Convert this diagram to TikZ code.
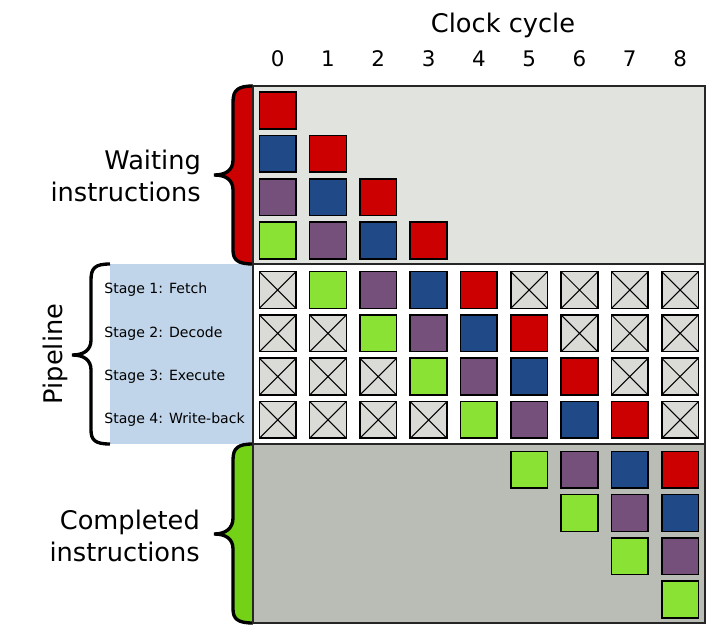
\documentclass[tikz,border=0pt]{standalone}
\usepackage{fontspec}
\setmainfont{DejaVu Sans}
\usetikzlibrary{positioning}

\definecolor{ired}{HTML}{CC0000}
\definecolor{iblue}{HTML}{204A87}
\definecolor{ipurple}{HTML}{75507B}
\definecolor{igreen}{HTML}{8AE234}
\definecolor{bracegreen}{HTML}{73D216}
\definecolor{waitbg}{HTML}{E1E3DE}
\definecolor{donebg}{HTML}{BABDB6}
\definecolor{stagebg}{HTML}{C1D5EA}
\definecolor{idlegray}{HTML}{DADBD7}

\begin{document}
\begin{tikzpicture}[
    x=0.02cm, y=-0.02cm,
    cell/.style={rectangle, draw=black, line width=0.9pt, minimum size=0.734cm, inner sep=0pt},
    instr/.style={cell, fill=#1},
    idle/.style={cell, fill=idlegray, path picture={
        \draw[line width=0.6pt] (path picture bounding box.north west) -- (path picture bounding box.south east)
          (path picture bounding box.north east) -- (path picture bounding box.south west);}},
    panel/.style={draw=black!85, line width=0.9pt},
    brace/.style={draw=black, line width=1.9pt},
    biglabel/.style={font=\fontsize{14.6}{18}\selectfont, align=right},
    digit/.style={font=\fontsize{12.2}{14}\selectfont},
    stage/.style={font=\fontsize{8}{9}\selectfont, anchor=west, inner sep=0pt}
  ]
  \useasboundingbox (0,0) rectangle (728,633);

  % background panels
  \fill[stagebg] (110,264) rectangle (253,444);
  \fill[waitbg] (253,86) rectangle (705,264);
  \fill[white] (253,264) rectangle (705,444);
  \fill[donebg] (253,444) rectangle (705,623);

  % braces
  \filldraw[brace, fill=ired] (253,86) .. controls (238,86) and (233,90) .. (233,102) -- (233,160)
    .. controls (233,170) and (226,175) .. (214,175) .. controls (226,175) and (233,180) .. (233,190)
    -- (233,250) .. controls (233,260) and (238,264) .. (253,264);
  \draw[brace] (110,264) .. controls (95,264) and (91,268) .. (91,280) -- (91,340)
    .. controls (91,350) and (84,355) .. (72,355) .. controls (84,355) and (91,360) .. (91,370)
    -- (91,430) .. controls (91,440) and (95,444) .. (110,444);
  \filldraw[brace, fill=bracegreen] (253,444) .. controls (238,444) and (233,448) .. (233,460) -- (233,518)
    .. controls (233,528) and (226,534) .. (214,534) .. controls (226,534) and (233,539) .. (233,549)
    -- (233,609) .. controls (233,619) and (238,623) .. (253,623);

  \draw[panel] (253,86) rectangle (705,623);
  \draw[panel] (253,264) -- (705,264) (253,444) -- (705,444);

  % labels
  \node[biglabel] (clock) at (503,25) {Clock cycle};
  \foreach \c in {0,...,8}
    \node[digit] (t\c) at ({277.7+50.3*\c},59) {\c};
  \node[biglabel, anchor=east] (waiting) at (207,176) {Waiting\\instructions};
  \node[biglabel, anchor=east] (completed) at (206,536) {Completed\\instructions};
  \node[biglabel, rotate=90] (pipeline) at (55,354) {Pipeline};
  \node[stage] (s1) at (104,290) {Stage 1: Fetch};
  \node[stage] (s2) at (104,333.3) {Stage 2: Decode};
  \node[stage] (s3) at (104,376.6) {Stage 3: Execute};
  \node[stage] (s4) at (104,420) {Stage 4: Write-back};

  % waiting instructions
  \foreach \c/\r/\col in {0/0/ired, 0/1/iblue, 1/1/ired, 0/2/ipurple, 1/2/iblue, 2/2/ired,
                          0/3/igreen, 1/3/ipurple, 2/3/iblue, 3/3/ired}
    \node[instr=\col] (w\r\c) at ({277.7+50.3*\c},{110.5+43.3*\r}) {};

  % pipeline stages
  \foreach \s in {0,...,3}
    \foreach \c in {0,...,8} {
      \pgfmathtruncatemacro{\k}{(\c-\s>0)*(\c-\s<5)*(\c-\s)}
      \pgfmathparse{{"idlegray","igreen","ipurple","iblue","ired"}[\k]}
      \let\col\pgfmathresult
      \ifnum\k=0
        \node[idle] (p\s\c) at ({277.7+50.3*\c},{290+43.3*\s}) {};
      \else
        \node[instr=\col] (p\s\c) at ({277.7+50.3*\c},{290+43.3*\s}) {};
      \fi
    }

  % completed instructions
  \foreach \c/\r/\col in {5/0/igreen, 6/0/ipurple, 7/0/iblue, 8/0/ired, 6/1/igreen, 7/1/ipurple,
                          8/1/iblue, 7/2/igreen, 8/2/ipurple, 8/3/igreen}
    \node[instr=\col] (d\r\c) at ({277.7+50.3*\c},{469.7+43.3*\r}) {};
\end{tikzpicture}
\end{document}
